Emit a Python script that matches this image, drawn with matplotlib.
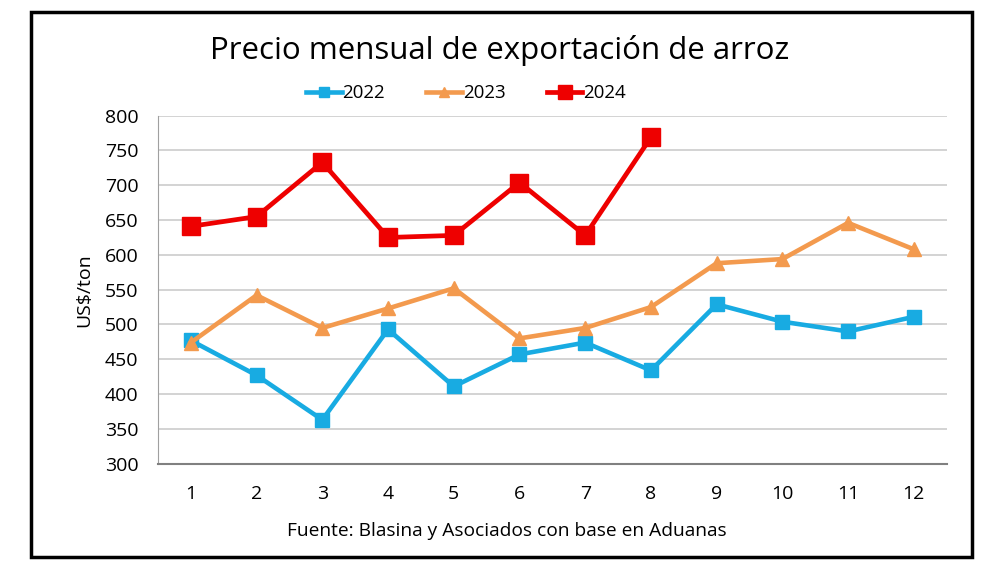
import matplotlib
matplotlib.use("Agg")
import matplotlib.pyplot as plt
from matplotlib.patches import Rectangle

months = list(range(1, 13))
v2022 = [477, 427, 363, 493, 411, 457, 474, 434, 529, 504, 490, 511]
v2023 = [474, 542, 495, 523, 552, 480, 495, 525, 588, 594, 646, 608]
months_2024 = list(range(1, 9))
v2024 = [641, 655, 733, 625, 628, 704, 628, 769]

title = "Precio mensual de exportación de arroz"
ylabel = "US$/ton"
source = "Fuente: Blasina y Asociados con base en Aduanas"
yticks = list(range(300, 801, 50))

plt.rcParams['font.family'] = ['Open Sans', 'DejaVu Sans']

fig = plt.figure(figsize=(10, 5.75), dpi=100)
ax = fig.add_axes([0.158, 0.1936, 0.7887, 0.6052])

c_blue = '#18ABE2'
c_orange = '#F39A4E'
c_red = '#EE0000'

ax.plot(months, v2022, color=c_blue, lw=3.3, marker='s', ms=10, label='2022', zorder=3)
ax.plot(months, v2023, color=c_orange, lw=3.3, marker='^', ms=10.5, label='2023', zorder=4)
ax.plot(months_2024, v2024, color=c_red, lw=3.4, marker='s', ms=12.5, label='2024', zorder=5)

ax.set_xlim(0.5, 12.5)
ax.set_ylim(300, 800)
ax.set_yticks(yticks)
ax.set_xticks(months)
ax.tick_params(axis='both', length=0, labelsize=14, colors='black')
ax.tick_params(axis='x', pad=15)
ax.tick_params(axis='y', pad=14)
ax.yaxis.grid(True, color='#C8C8C8', lw=1.1)
ax.set_axisbelow(True)
for s in ['top', 'right']:
    ax.spines[s].set_visible(False)
ax.spines['left'].set_color('#A0A0A0')
ax.spines['bottom'].set_color('#808080')
ax.spines['bottom'].set_linewidth(1.5)
ax.set_ylabel(ylabel, fontsize=14, labelpad=8)

fig.text(0.50, 0.913, title, ha='center', va='center', fontsize=22.5)
leg = fig.legend(loc='center', bbox_to_anchor=(0.466, 0.838), ncol=3, frameon=False,
                 fontsize=13.5, handlelength=1.9, handletextpad=0.05, columnspacing=2.2,
                 markerscale=0.75)
fig.text(0.507, 0.077, source, ha='center', va='center', fontsize=13.8)

fig.patches.append(Rectangle((0.031, 0.031), 0.941, 0.948, transform=fig.transFigure,
                             fill=False, edgecolor='black', lw=2.5))

fig.savefig('out.png', dpi=100)
